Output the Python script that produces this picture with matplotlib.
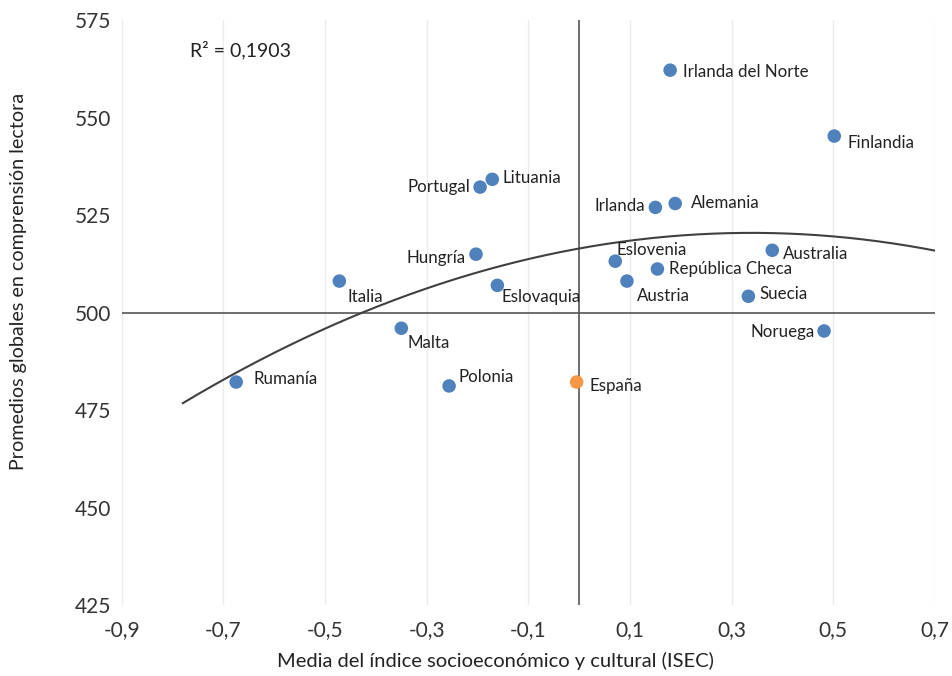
import numpy as np
import matplotlib.pyplot as plt

paises = ['Irlanda del Norte', 'Finlandia', 'Lituania', 'Portugal', 'Irlanda',
          'Alemania', 'Australia', 'Eslovenia', 'República Checa', 'Hungría',
          'Italia', 'Eslovaquia', 'Austria', 'Suecia', 'Noruega', 'Malta',
          'Rumanía', 'Polonia', 'España']
isec = [0.179, 0.502, -0.171, -0.195, 0.150, 0.189, 0.380, 0.071, 0.154, -0.203,
        -0.472, -0.161, 0.094, 0.333, 0.482, -0.350, -0.675, -0.256, -0.005]
lectura = [562.2, 545.3, 534.2, 532.2, 527.0, 528.0, 516.0, 513.2, 511.2, 515.0,
           508.1, 507.0, 508.1, 504.2, 495.3, 496.0, 482.2, 481.2, 482.2]

xticks = [-0.9, -0.7, -0.5, -0.3, -0.1, 0.1, 0.3, 0.5, 0.7]
yticks = [425, 450, 475, 500, 525, 550, 575]


def main():
    plt.rcParams['font.family'] = ['Lato', 'DejaVu Sans']
    fig = plt.figure(figsize=(9.52, 6.76), dpi=100)
    ax = fig.add_axes([0.128, 0.105, 0.854, 0.865])

    x = np.array(isec)
    y = np.array(lectura)
    colores = ['#F79646' if p == 'España' else '#4F81BD' for p in paises]
    ax.scatter(x, y, s=95, c=colores, zorder=3, linewidths=0)

    # tendencia polinómica de grado 2
    coef = np.polyfit(x, y, 2)
    xt = np.linspace(-0.78, 0.7, 200)
    ax.plot(xt, np.polyval(coef, xt), color='#404040', lw=1.5, zorder=2)

    # etiquetas: (dx, dy, ha) en pixeles
    offs = {
        'Irlanda del Norte': (13, -2, 'left'), 'Finlandia': (13, -7, 'left'),
        'Lituania': (10, 1, 'left'), 'Portugal': (-10, 0, 'right'),
        'Irlanda': (-10, 1, 'right'), 'Alemania': (16, 0, 'left'),
        'Australia': (11, -4, 'left'), 'Eslovenia': (1, 11, 'left'),
        'República Checa': (12, 0, 'left'), 'Hungría': (-10, -4, 'right'),
        'Italia': (8, -16, 'left'), 'Eslovaquia': (4, -12, 'left'),
        'Austria': (10, -15, 'left'), 'Suecia': (11, 2, 'left'),
        'Noruega': (-9, -1, 'right'), 'Malta': (6, -15, 'left'),
        'Rumanía': (17, 3, 'left'), 'Polonia': (9, 9, 'left'),
        'España': (13, -4, 'left'),
    }
    for p, xi, yi in zip(paises, isec, lectura):
        dx, dy, ha = offs[p]
        ax.annotate(p, (xi, yi), xytext=(dx, dy), textcoords='offset pixels',
                    ha=ha, va='center', fontsize=12.2, color='#222222')

    ax.text(-0.766, 567.3, 'R² = 0,1903', fontsize=14, va='center', ha='left',
            color='#222222')

    ax.set_xlim(-0.9, 0.7)
    ax.set_ylim(425, 575)
    ax.set_xticks(xticks)
    ax.set_xticklabels([('%.1f' % t).replace('.', ',') for t in xticks])
    ax.set_yticks(yticks)
    ax.grid(axis='x', color='#EBEBEB', lw=1)
    ax.set_axisbelow(True)
    for s in ax.spines.values():
        s.set_visible(False)
    ax.axhline(500, color='#555555', lw=1.2, zorder=1)
    ax.axvline(0, color='#555555', lw=1.2, zorder=1)
    ax.tick_params(length=0, labelsize=15, colors='#333333', pad=8)
    ax.tick_params(axis='x', pad=11)
    ax.set_xlabel('Media del índice socioeconómico y cultural (ISEC)',
                  fontsize=14.5, color='#222222')
    ax.set_ylabel('Promedios globales en comprensión lectora',
                  fontsize=14.2, color='#222222')
    ax.xaxis.set_label_coords(0.459, -0.08)
    ax.yaxis.set_label_coords(-0.117, 0.554)

    fig.savefig('out.png', dpi=100)


if __name__ == '__main__':
    main()
